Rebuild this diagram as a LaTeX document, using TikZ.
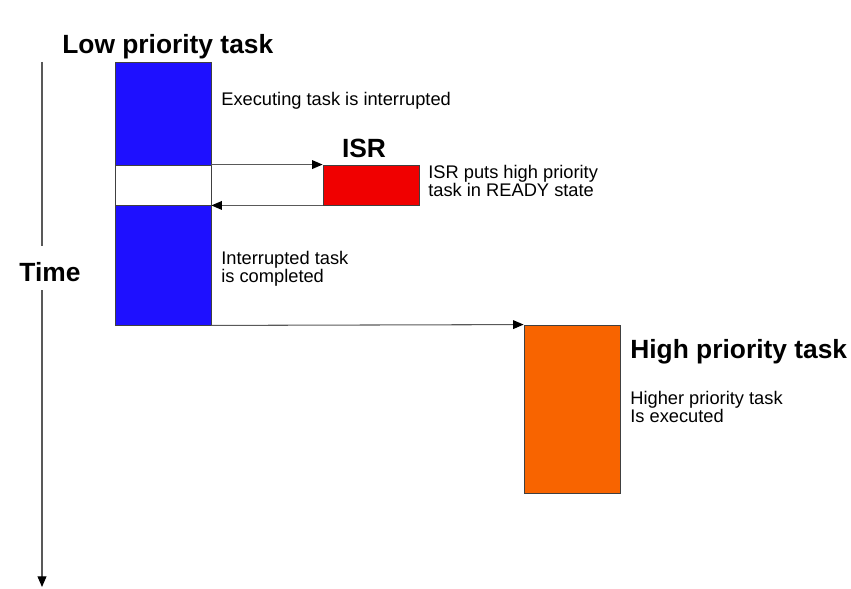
\documentclass[tikz,border=0pt]{standalone}
\usepackage{fontspec}
\setmainfont{Liberation Sans}
\usetikzlibrary{arrows.meta}
\definecolor{taskblue}{RGB}{30,16,255}
\definecolor{isrred}{RGB}{240,0,0}
\definecolor{highorange}{RGB}{248,100,0}

\begin{document}
\begin{tikzpicture}[x=0.02cm,y=-0.02cm]
	\tikzstyle{title} = [font=\fontsize{15}{18}\selectfont\bfseries, inner sep=0pt]
	\tikzstyle{note} = [font=\fontsize{10.4}{10.4}\selectfont, align=left, anchor=west, inner sep=0pt]
	\tikzstyle{task} = [draw=black!75, line width=0.5pt, minimum width=1.92cm, inner sep=0pt]
	\tikzset{edge/.style = {draw=black!65, line width=0.6pt, -{Triangle[length=6pt,width=5pt,color=black]}}}
	
	\useasboundingbox (0,0) rectangle (851,588);
	
	% time axis
	\coordinate (t0) at (42,62);
	\coordinate (t1) at (42,246);
	\coordinate (t2) at (42,290);
	\coordinate (t3) at (42,587);
	\node[title](time) at (50,272) {Time};
	\draw[draw=black!65, line width=0.6pt] (t0) -- (t1);
	\draw[edge] (t2) -- (t3);
	
	% low priority task
	\node[title, anchor=west](lowtitle) at (62,47) {Low priority task};
	\node[task, fill=taskblue, minimum height=2.06cm](lowtop) at (163,113.5) {};
	\node[task, fill=white, minimum height=0.8cm](lowgap) at (163,185) {};
	\node[task, fill=taskblue, minimum height=2.4cm](lowbot) at (163,265) {};
	\node[note](execnote) at (221,101) {Executing task is interrupted};
	\node[note](donenote) at (221,268.5) {Interrupted task\\is completed};
	
	% isr
	\node[title](isrtitle) at (364,148) {ISR};
	\node[task, fill=isrred, minimum height=0.8cm](isr) at (371,185) {};
	\node[note](isrnote) at (428,181) {ISR puts high priority\\task in READY state};
	
	% high priority task
	\node[title, anchor=west](hightitle) at (630,352) {High priority task};
	\node[task, fill=highorange, minimum height=3.36cm](high) at (572,409) {};
	\node[note](highnote) at (630,407) {Higher priority task\\Is executed};
	
	% switches
	\draw[edge](lowgap.north east) to (isr.north west);
	\draw[edge](isr.south west)    to (lowgap.south east);
	\draw[edge](lowbot.south east) to (high.north west);
\end{tikzpicture}
\end{document}
